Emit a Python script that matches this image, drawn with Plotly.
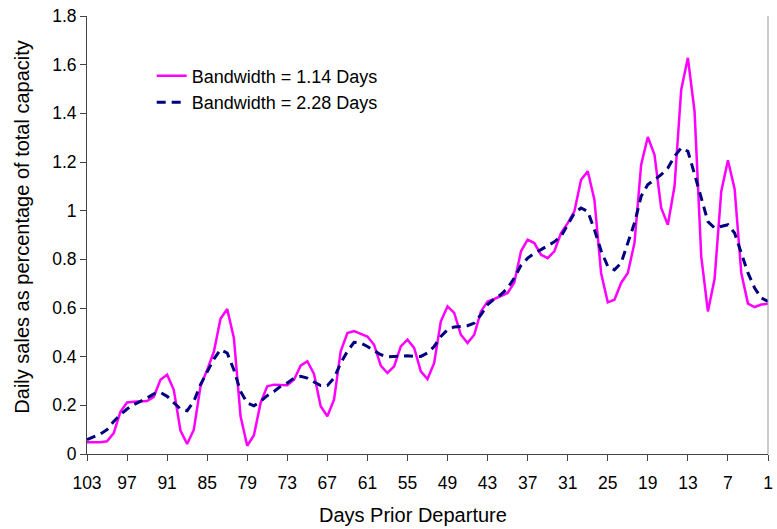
import plotly.graph_objects as go

days = list(range(103, 0, -1))

bw_114 = [0.048, 0.048, 0.048, 0.052, 0.086, 0.173, 0.212, 0.215, 0.217, 0.218,
          0.235, 0.305, 0.326, 0.264, 0.096, 0.041, 0.10, 0.278, 0.346, 0.42,
          0.556, 0.596, 0.477, 0.155, 0.034, 0.077, 0.21, 0.278, 0.285, 0.283,
          0.283, 0.305, 0.363, 0.381, 0.329, 0.196, 0.155, 0.223, 0.422, 0.497,
          0.505, 0.494, 0.483, 0.449, 0.363, 0.333, 0.36, 0.442, 0.47, 0.436,
          0.34, 0.308, 0.374, 0.545, 0.607, 0.58, 0.49, 0.456, 0.49, 0.586,
          0.627, 0.637, 0.648, 0.662, 0.705, 0.833, 0.881, 0.867, 0.819, 0.805,
          0.833, 0.908, 0.949, 0.997, 1.127, 1.162, 1.045, 0.744, 0.623, 0.634,
          0.703, 0.744, 0.867, 1.189, 1.303, 1.23, 1.011, 0.942, 1.10, 1.497,
          1.628, 1.408, 0.812, 0.586, 0.72, 1.079, 1.207, 1.089, 0.744, 0.618,
          0.604, 0.614, 0.618]

bw_228 = [0.059, 0.07, 0.082, 0.10, 0.134, 0.162, 0.185, 0.203, 0.216, 0.23,
          0.247, 0.253, 0.237, 0.212, 0.185, 0.178, 0.216, 0.285, 0.34, 0.39,
          0.429, 0.415, 0.346, 0.257, 0.21, 0.198, 0.216, 0.24, 0.257, 0.278,
          0.292, 0.312, 0.319, 0.312, 0.296, 0.281, 0.281, 0.312, 0.374, 0.422,
          0.459, 0.456, 0.442, 0.426, 0.408, 0.399, 0.401, 0.404, 0.404, 0.401,
          0.401, 0.415, 0.442, 0.483, 0.511, 0.522, 0.524, 0.527, 0.538, 0.572,
          0.614, 0.637, 0.655, 0.682, 0.723, 0.775, 0.805, 0.825, 0.84, 0.856,
          0.872, 0.895, 0.94, 0.99, 1.011, 0.997, 0.922, 0.835, 0.771, 0.757,
          0.785, 0.867, 0.949, 1.059, 1.107, 1.127, 1.148, 1.175, 1.223, 1.258,
          1.244, 1.15, 1.05, 0.955, 0.929, 0.935, 0.942, 0.908, 0.826, 0.744,
          0.682, 0.641, 0.627]

x_ticks = list(range(103, 0, -6))
y_ticks = [0, 0.2, 0.4, 0.6, 0.8, 1.0, 1.2, 1.4, 1.6, 1.8]
y_tick_text = ["0", "0.2", "0.4", "0.6", "0.8", "1", "1.2", "1.4", "1.6", "1.8"]

x_title = "Days Prior Departure"
y_title = "Daily sales as percentage of total capacity"

FONT = "Liberation Sans, Arial, sans-serif"

fig = go.Figure()
fig.add_trace(go.Scatter(x=days, y=bw_114, mode="lines", name="Bandwidth = 1.14 Days",
                         line=dict(color="#FF00FF", width=2.5)))
fig.add_trace(go.Scatter(x=days, y=bw_228, mode="lines", name="Bandwidth = 2.28 Days",
                         line=dict(color="#000080", width=3, dash="9px,6px")))

fig.update_layout(
    width=777, height=529,
    margin=dict(l=87, r=4, t=16, b=75),
    paper_bgcolor="white", plot_bgcolor="white",
    font=dict(family=FONT, color="black", size=17.5),
    showlegend=True,
    legend=dict(x=0.095, y=0.905, xanchor="left", yanchor="top",
                bgcolor="rgba(0,0,0,0)", font=dict(size=18, family=FONT),
                tracegroupgap=0, itemwidth=30),
    xaxis=dict(range=[103, 1], tickmode="array", tickvals=x_ticks,
               ticktext=[str(t) for t in x_ticks], ticklabeloverflow="allow",
               showgrid=False, zeroline=False, showline=True, linecolor="#444",
               linewidth=1, ticks="outside", ticklen=6, tickcolor="#444",
               ticklabelstandoff=7),
    yaxis=dict(range=[0, 1.8], tickmode="array", tickvals=y_ticks, ticktext=y_tick_text,
               showgrid=False, zeroline=False, showline=True, linecolor="#444",
               linewidth=1, ticks="outside", ticklen=6, tickcolor="#444"),
    annotations=[
        dict(text=x_title, xref="paper", yref="paper", x=0.478, y=-0.139,
             xanchor="center", yanchor="middle", showarrow=False,
             font=dict(size=20, family=FONT)),
        dict(text=y_title, xref="paper", yref="paper", x=-0.0948, y=0.52,
             xanchor="center", yanchor="middle", showarrow=False, textangle=-90,
             font=dict(size=20, family=FONT)),
    ],
)

fig.add_shape(type="line", xref="paper", yref="paper", x0=1, x1=1, y0=0, y1=1,
              line=dict(color="#999", width=1))

fig.write_html("out.html")
